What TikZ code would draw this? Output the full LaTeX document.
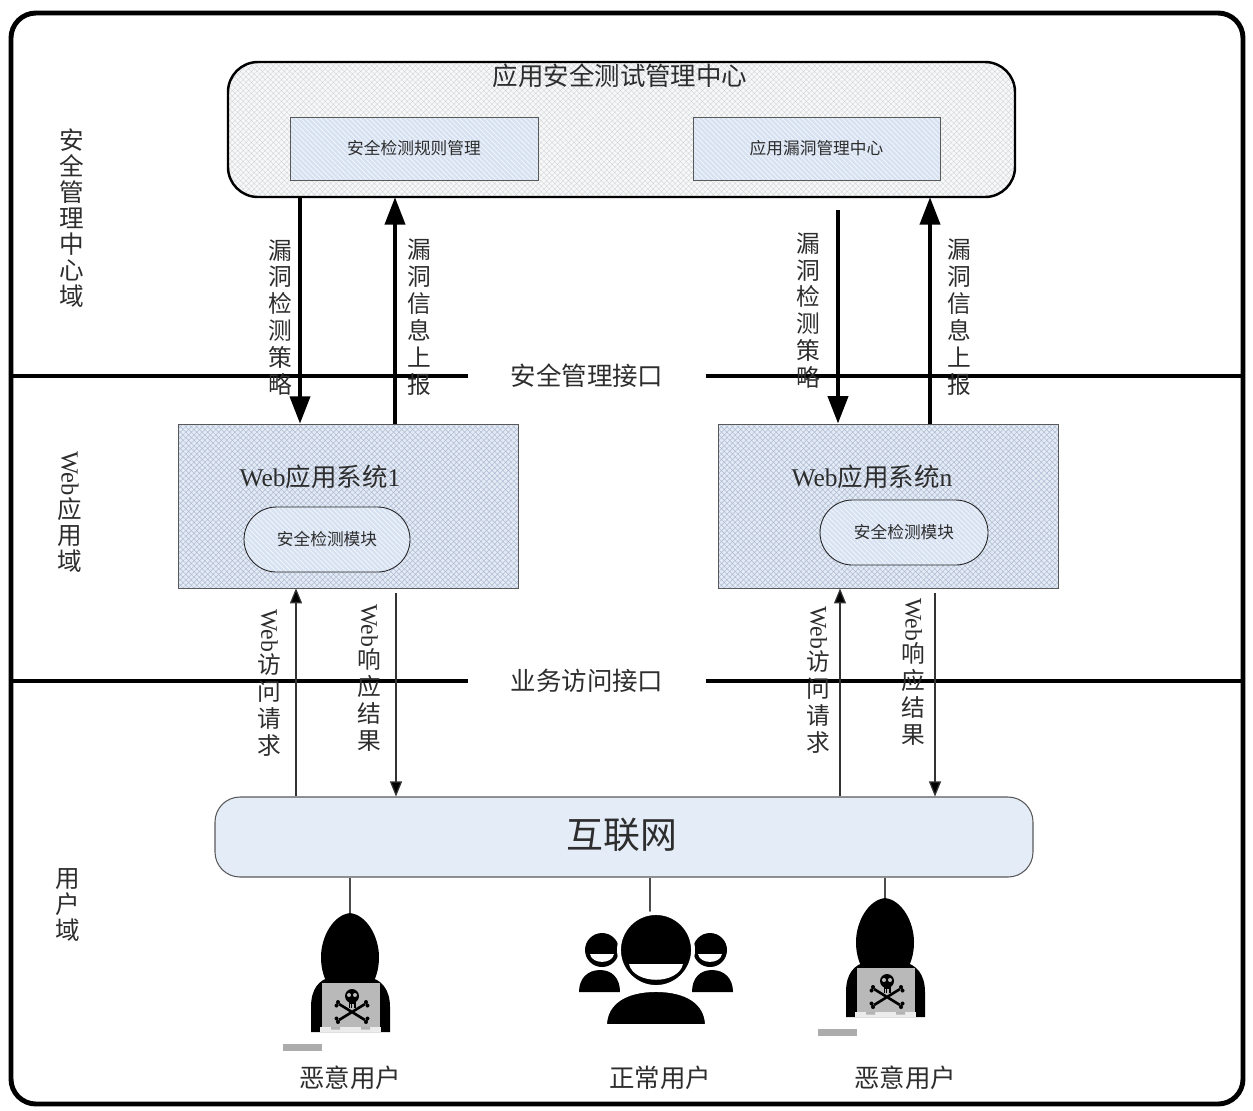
\documentclass[tikz,border=0pt]{standalone}
\usepackage{fontspec}
\usepackage{graphicx}
\setmainfont{Noto Sans CJK SC}
\newfontfamily\lat{Liberation Serif}
\usetikzlibrary{arrows.meta, fit, patterns.meta}

\begin{document}
\begin{tikzpicture}[x=0.02cm, y=-0.02cm,
    txt/.style={text=ink, inner sep=0pt},
    headtxt/.style={txt, font=\fontsize{14.5}{16}\selectfont},
    smalltxt/.style={txt, font=\fontsize{9.5}{11}\selectfont},
    nettxt/.style={txt, font=\fontsize{21}{24}\selectfont},
    vlabel/.style={txt, align=center, font=\fontsize{13.5}{15.3}\selectfont},
    zonetxt/.style={txt, align=center, font=\fontsize{14}{14.8}\selectfont},
    outerframe/.style={draw, line width=2.8pt, rounded corners=0.5cm, inner sep=0pt},
    mgmtbox/.style={draw, line width=1.4pt, rounded corners=0.6cm, inner sep=0pt,
      preaction={fill=mgmtfill}, pattern={Hatch[angle=45, distance=2.2pt, line width=0.2pt]},
      pattern color=gray!35},
    funcbox/.style={draw=gray!70!black, line width=0.5pt, inner sep=0pt,
      preaction={fill=funcfill}, pattern={Lines[angle=-45, distance=2pt, line width=0.5pt]},
      pattern color=white!70!funcfill},
    module/.style={funcbox, draw=gray!30!black, rounded corners=0.65cm},
    websys/.style={draw=gray!70!black, line width=0.5pt, inner sep=0pt,
      preaction={fill=webfill}, pattern={Hatch[angle=45, distance=2.2pt, line width=0.3pt]},
      pattern color=webhatch},
    netbox/.style={draw=gray!70!black, line width=0.6pt, fill=netfill, rounded corners=0.5cm, inner sep=0pt},
    ifline/.style={line width=2.3pt},
    bigarrow/.style={line width=2.3pt, -{Triangle[length=0.55cm, width=0.4cm]}},
    smallarrow/.style={line width=0.7pt, draw=gray!40!black, -{Triangle[length=0.3cm, width=0.24cm, fill=black]}},
    userlink/.style={line width=0.6pt, draw=gray!60!black},
    pics/hacker/.style={code={
      % shoulders and hood
      \fill (-39,119) -- (-39,94) .. controls (-39,76) and (-31,66) .. (-18,64) -- (18,64)
        .. controls (31,66) and (40,76) .. (40,94) -- (40,119) -- cycle;
      \fill (0,0) .. controls (17,2) and (29,24) .. (29,44) .. controls (29,58) and (25,66) .. (22,72)
        -- (-22,72) .. controls (-25,66) and (-29,58) .. (-29,44) .. controls (-29,24) and (-17,2) .. (0,0) -- cycle;
      % laptop
      \fill[gray!55] (-28,70) rectangle (30,114);
      \fill[gray!15] (-30,114) rectangle (31,119);
      \fill[gray!60] (-19,114) rectangle (-10,116.5) (11,114) rectangle (20,116.5);
      % skull and bones
      \draw[line width=1.5pt] (-11,91) -- (15,107) (-11,107) -- (15,91);
      \fill (-12,89) circle[radius=2] (-13.5,92.5) circle[radius=2]
        (16,89) circle[radius=2] (17.5,92.5) circle[radius=2]
        (-12,109) circle[radius=2] (-13.5,105.5) circle[radius=2]
        (16,109) circle[radius=2] (17.5,105.5) circle[radius=2];
      \fill (2,83) circle[radius=7];
      \fill (-1.5,87) rectangle (5.5,95);
      \fill[gray!55] (-1,82) circle[radius=2] (5,82) circle[radius=2];
      \draw[gray!55, line width=0.3pt] (0.5,91) -- (0.5,95) (2,91) -- (2,95) (3.5,91) -- (3.5,95);
      % tag
      \fill[gray!65] (-67,131) rectangle (-28,138);
    }},
    pics/users/.style={code={
      % side persons
      \fill (-77,42) .. controls (-77,28) and (-68,20) .. (-56,20) .. controls (-44,20) and (-36,28) .. (-36,42) -- cycle;
      \fill (36,42) .. controls (36,28) and (44,20) .. (56,20) .. controls (68,20) and (77,28) .. (77,42) -- cycle;
      \fill (-54,0) circle[radius=17] (54,0) circle[radius=17];
      \fill[white] (-66,4) -- (-42,4) .. controls (-44,14.5) and (-64,14.5) .. cycle;
      \fill[white] (42,4) -- (66,4) .. controls (64,14.5) and (44,14.5) .. cycle;
      % front person
      \filldraw[draw=white, line width=2.2pt] (-51,76) .. controls (-51,52) and (-30,40) .. (0,40)
        .. controls (30,40) and (51,52) .. (51,76) -- cycle;
      \filldraw[draw=white, line width=2.2pt] (0,0) circle[radius=37];
      \fill[white] (-27,14) -- (27,14) .. controls (22,35) and (-22,35) .. cycle;
    }}]
  \definecolor{ink}{RGB}{45,45,45}
  \definecolor{mgmtfill}{RGB}{247,248,250}
  \definecolor{funcfill}{RGB}{214,225,242}
  \definecolor{webfill}{RGB}{228,235,246}
  \definecolor{webhatch}{RGB}{175,188,210}
  \definecolor{netfill}{RGB}{228,236,248}

  \useasboundingbox (0,0) rectangle (1253,1110);
  \node[outerframe, fit={(11,13) (1243,1104)}] (frame) {};

  % domains
  \node[zonetxt] (dsec) at (72,218) {安\\全\\管\\理\\中\\心\\域};
  \node[zonetxt] (dweb) at (70,512) {\rotatebox{-90}{\lat Web}\\应\\用\\域};
  \node[zonetxt] (dusr) at (68,905) {用\\户\\域};

  % management center
  \node[mgmtbox, fit={(228,62) (1015,197)}] (mgmt) {};
  \node[headtxt] (mgmtt) at (620,76) {应用安全测试管理中心};
  \node[funcbox, fit={(290,117) (538,180)}] (rules) {};
  \node[smalltxt] (rulest) at (rules) {安全检测规则管理};
  \node[funcbox, fit={(693,117) (940,180)}] (vulc) {};
  \node[smalltxt] (vulct) at (vulc) {应用漏洞管理中心};

  % interfaces
  \node[headtxt, inner xsep=0.84cm] (secif) at (587,376) {安全管理接口};
  \node[headtxt, inner xsep=0.84cm] (bizif) at (587,681) {业务访问接口};
  \draw[ifline] (frame.west |- secif) -- (secif.west);
  \draw[ifline] (secif.east) -- (frame.east |- secif);
  \draw[ifline] (frame.west |- bizif) -- (bizif.west);
  \draw[ifline] (bizif.east) -- (frame.east |- bizif);

  % web systems
  \node[websys, fit={(178,424) (518,588)}] (web1) {};
  \node[headtxt] (web1t) at (320,477) {{\lat Web}应用系统{\lat 1}};
  \node[module, fit={(244,507) (410,572)}] (det1) {};
  \node[smalltxt] (det1t) at (det1) {安全检测模块};
  \node[websys, fit={(718,424) (1058,588)}] (webn) {};
  \node[headtxt] (webnt) at (872,477) {{\lat Web}应用系统{\lat n}};
  \node[module, fit={(820,500) (988,565)}] (detn) {};
  \node[smalltxt] (detnt) at (detn) {安全检测模块};

  % internet
  \node[netbox, fit={(215,797) (1033,877)}] (inet) {};
  \node[nettxt] (inett) at (622,835) {互联网};

  \coordinate (pol1) at (300,0);
  \coordinate (rep1) at (395,0);
  \coordinate (poln) at (838,0);
  \coordinate (repn) at (930,0);
  \coordinate (req1) at (296,0);
  \coordinate (res1) at (396,0);
  \coordinate (reqn) at (840,0);
  \coordinate (resn) at (935,0);

  % policies down, reports up
  \draw[bigarrow] (pol1 |- mgmt.south) -- node[vlabel, left=3pt, pos=0.53] {漏\\洞\\检\\测\\策\\略} (pol1 |- web1.north);
  \draw[bigarrow] (rep1 |- web1.north) -- node[vlabel, right=6pt, pos=0.47] {漏\\洞\\信\\息\\上\\报} (rep1 |- mgmt.south);
  \draw[bigarrow, shorten <=0.26cm] (poln |- mgmt.south) -- node[vlabel, left=9pt, pos=0.5] {漏\\洞\\检\\测\\策\\略} (poln |- webn.north);
  \draw[bigarrow] (repn |- webn.north) -- node[vlabel, right=9pt, pos=0.47] {漏\\洞\\信\\息\\上\\报} (repn |- mgmt.south);

  % web traffic
  \draw[smallarrow] (req1 |- inet.north) -- node[vlabel, left=8pt, pos=0.545] {\rotatebox{-90}{\lat Web}\\访\\问\\请\\求} (req1 |- web1.south);
  \draw[smallarrow, shorten <=0.1cm] (res1 |- web1.south) -- node[vlabel, left=8pt, pos=0.43] {\rotatebox{-90}{\lat Web}\\响\\应\\结\\果} (res1 |- inet.north);
  \draw[smallarrow] (reqn |- inet.north) -- node[vlabel, left=5pt, pos=0.56] {\rotatebox{-90}{\lat Web}\\访\\问\\请\\求} (reqn |- webn.south);
  \draw[smallarrow, shorten <=0.1cm] (resn |- webn.south) -- node[vlabel, left=5pt, pos=0.4] {\rotatebox{-90}{\lat Web}\\响\\应\\结\\果} (resn |- inet.north);

  % users
  \coordinate (bad1) at (350,913);
  \coordinate (good) at (650,914);
  \coordinate (badn) at (885,898);
  \draw[userlink] (inet.south -| bad1) -- (bad1);
  \draw[userlink] (inet.south -| good) -- (good);
  \draw[userlink] (inet.south -| badn) -- (badn);
  \pic at (bad1) {hacker};
  \pic at (656,950) {users};
  \pic at (badn) {hacker};
  \node[headtxt] (bad1t) at (350,1078) {恶意用户};
  \node[headtxt] (goodt) at (660,1078) {正常用户};
  \node[headtxt] (badnt) at (905,1078) {恶意用户};
\end{tikzpicture}
\end{document}
